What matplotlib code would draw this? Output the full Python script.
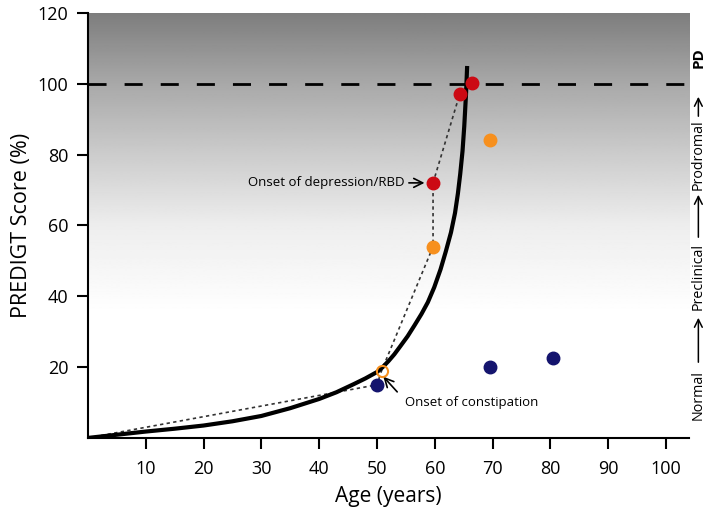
import numpy as np
import matplotlib
matplotlib.use("Agg")
import matplotlib.pyplot as plt

plt.rcParams['font.family'] = ['Open Sans', 'DejaVu Sans']

# risk curve
curve_age = [0, 5, 10, 15, 20, 25, 30, 35, 40, 43, 46, 48, 50, 51, 52, 53, 54, 55.3, 56.5, 57.7, 58.8, 59.9, 61,
             61.9, 62.8, 63.5, 64, 64.4, 64.8, 65.1, 65.4, 65.6]
curve_score = [0, 0.9, 1.8, 2.6, 3.5, 4.7, 6.2, 8.4, 11, 12.9, 15.2, 16.8, 18.6, 20.0, 21.7, 23.6, 25.8, 28.7, 31.8,
               35, 38.3, 42.5, 47.6, 52.6, 58, 63.5, 69, 74.5, 81, 88, 97, 105]

# patient trajectory (dotted)
path_age = [0, 50, 50.8, 59.7, 59.7, 64.3, 66.5]
path_score = [0, 15, 19, 54, 72, 97, 100.3]

navy_age = [50, 69.5, 80.5]
navy_score = [15, 20, 22.5]
orange_age = [59.7, 69.5]
orange_score = [54, 84]
hollow_age = [50.8]
hollow_score = [19]
red_age = [59.7, 64.3, 66.5]
red_score = [72, 97, 100.3]

xticks = [10, 20, 30, 40, 50, 60, 70, 80, 90, 100]
yticks = [20, 40, 60, 80, 100, 120]

# stage labels on the right (text, vertical position in figure pixels from top)
stage_words = ['Normal', 'Preclinical', 'Prodromal']
stage_pos = [395, 276, 155]
arrow_spans = [(365, 315), (240, 192), (119, 94)]

# background shading stops
grad_y = [0, 35, 60, 80, 100, 120]
grad_v = [1.0, 1.0, 0.93, 0.80, 0.66, 0.49]

W, H = 709, 514
fig = plt.figure(figsize=(7.09, 5.14), dpi=100)
ax = fig.add_axes([0.124, 0.148, 0.848, 0.827])
ax.set_xlim(0, 104)
ax.set_ylim(0, 120)

yy = np.linspace(0, 120, 400)
shade = np.interp(yy, grad_y, grad_v)[:, None]
ax.imshow(shade, cmap='gray', vmin=0, vmax=1, aspect='auto',
          extent=[0, 104, 0, 120], origin='lower', zorder=0)

ax.axhline(100, color='black', lw=2, dashes=(6.5, 6.5), zorder=2)
ax.plot(path_age, path_score, color='#333333', lw=1.2, ls=(0, (2, 2)), zorder=3)
ax.plot(curve_age, curve_score, color='black', lw=3, zorder=4, solid_capstyle='butt', solid_joinstyle='round')

ms = 9
ax.plot(navy_age, navy_score, 'o', color='#14146e', ms=ms, zorder=5, ls='none')
ax.plot(orange_age, orange_score, 'o', color='#f7901e', ms=ms, zorder=5, ls='none')
ax.plot(hollow_age, hollow_score, 'o', mfc='none', mec='#f7901e', mew=1.5, ms=8, zorder=5, ls='none')
ax.plot(red_age, red_score, 'o', color='#cc0a14', ms=ms, zorder=5, ls='none')

ax.annotate('Onset of depression/RBD', xy=(red_age[0] - 1, red_score[0]),
            xytext=(54.8, red_score[0]), ha='right', va='center', fontsize=9.5,
            arrowprops=dict(arrowstyle='->', lw=1.2, color='black', mutation_scale=16, shrinkA=1))
ax.annotate('', xy=(51.1, 17.3), xytext=(53.5, 13),
            arrowprops=dict(arrowstyle='->', lw=1.2, color='black', mutation_scale=16, shrinkA=0, shrinkB=0))
ax.text(54.8, 10, 'Onset of constipation', ha='left', va='center', fontsize=9.5)

for s in ['top', 'right']:
    ax.spines[s].set_visible(False)
ax.spines['left'].set_linewidth(1.5)
ax.spines['bottom'].set_linewidth(1.5)
ax.spines['left'].set_zorder(6)

ax.set_xticks(xticks)
ax.set_yticks(yticks)
ax.tick_params(axis='both', length=8, width=1.5, labelsize=13)
ax.tick_params(axis='x', pad=8)
ax.tick_params(axis='y', pad=6)
ax.set_xlabel('Age (years)', fontsize=15, labelpad=6)
ax.set_ylabel('PREDIGT Score (%)', fontsize=15.5, labelpad=4)

tx = 0.985
for word, p in zip(stage_words, stage_pos):
    fig.text(tx, 1 - p / H, word, rotation=90, ha='center', va='center', fontsize=10.3)
for a, b in arrow_spans:
    fig.add_artist(matplotlib.patches.FancyArrowPatch(
        (tx, 1 - a / H), (tx, 1 - b / H), transform=fig.transFigure,
        arrowstyle='->', mutation_scale=14, lw=1.1, color='black'))
fig.text(tx, 1 - 58 / H, 'PD', rotation=90, ha='center', va='center',
         fontsize=11, fontweight='bold')

fig.savefig('out.png', dpi=100)
